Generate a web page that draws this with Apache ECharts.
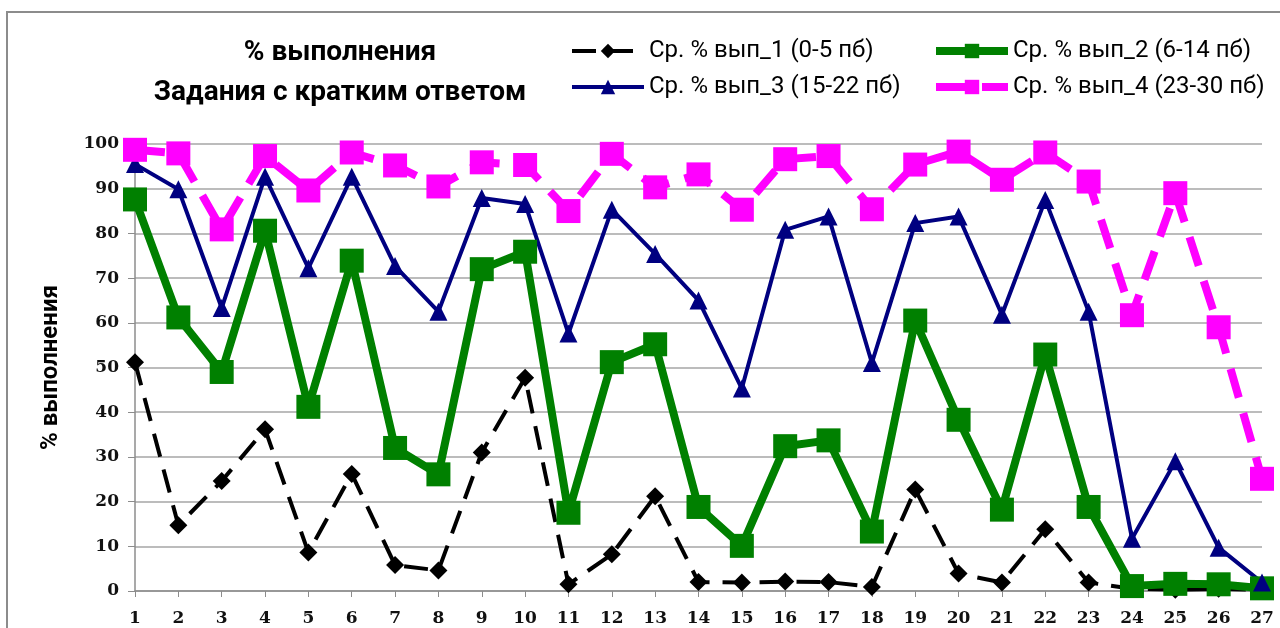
<!DOCTYPE html>
<html>
<head>
<meta charset="utf-8">
<script src="https://cdn.jsdelivr.net/npm/echarts@6/dist/echarts.min.js"></script>
<style>html,body{margin:0;padding:0;background:#fff;}#chart{width:1280px;height:628px;}</style>
</head>
<body>
<div id="chart"></div>
<script>
const categories = ['1','2','3','4','5','6','7','8','9','10','11','12','13','14','15','16','17','18','19','20','21','22','23','24','25','26','27'];
const seriesNames = ['Ср. % вып_1 (0-5 пб)', 'Ср. % вып_2 (6-14 пб)', 'Ср. % вып_3 (15-22 пб)', 'Ср. % вып_4 (23-30 пб)'];
const group1 = [51.2, 14.7, 24.6, 36.2, 8.6, 26.2, 5.8, 4.6, 31.0, 47.7, 1.5, 8.2, 21.2, 2.0, 1.9, 2.1, 2.0, 0.9, 22.7, 3.9, 1.9, 13.8, 1.9, 0.5, 0.3, 0.5, 0.2];
const group2 = [87.6, 61.2, 49.0, 80.6, 41.2, 73.9, 32.0, 26.1, 72.0, 75.9, 17.5, 51.2, 55.2, 18.8, 10.1, 32.4, 33.7, 13.3, 60.5, 38.3, 18.2, 52.9, 18.8, 1.1, 1.6, 1.5, 0.6];
const group3 = [95.5, 89.9, 63.3, 92.7, 72.2, 92.7, 72.7, 62.5, 87.9, 86.6, 57.6, 85.3, 75.4, 65.0, 45.3, 80.8, 83.8, 51.0, 82.3, 83.8, 61.8, 87.5, 62.5, 11.7, 29.0, 9.7, 1.9];
const group4 = [98.7, 97.9, 80.9, 97.3, 89.6, 98.1, 95.2, 90.5, 95.9, 95.3, 85.0, 97.8, 90.3, 93.2, 85.3, 96.6, 97.3, 85.4, 95.4, 98.3, 92.0, 98.1, 91.6, 61.7, 89.0, 59.0, 25.1];
const titleLines = ['% выполнения', 'Задания с кратким ответом'];
const yAxisName = '% выполнения';

const chart = echarts.init(document.getElementById('chart'), null, {renderer: 'canvas'});
const legendText = {fontFamily: 'Roboto, sans-serif', fontSize: 24, color: '#000'};
function mkLegend(name, left, top) {
  return {data: [name], left: left, top: top, itemWidth: 72, itemHeight: 18, textStyle: legendText, selectedMode: false,
    lineStyle: {width: 'inherit', type: 'inherit'}};
}
const option = {
  backgroundColor: '#fff',
  animation: false,
  graphic: [{type: 'rect', shape: {x: 7, y: 12, width: 1300, height: 700}, style: {fill: 'none', stroke: '#8c8c8c', lineWidth: 2}, silent: true}],
  title: {text: titleLines.join('\n'), left: 335, top: 28, textAlign: 'center',
    textStyle: {fontFamily: 'Roboto, sans-serif', fontSize: 28, fontWeight: 'bold', color: '#000', lineHeight: 40}},
  legend: [mkLegend(seriesNames[0], 565, 34), mkLegend(seriesNames[1], 927, 34), mkLegend(seriesNames[2], 565, 70), mkLegend(seriesNames[3], 927, 70)],
  grid: {left: 135, right: 18, top: 144, bottom: 37, containLabel: false},
  xAxis: {type: 'category', data: categories, boundaryGap: false,
    axisLine: {lineStyle: {color: '#8c8c8c', width: 1.5}},
    axisTick: {alignWithLabel: true, length: 6, lineStyle: {color: '#8c8c8c'}},
    axisLabel: {fontFamily: '"DejaVu Serif", serif', fontSize: 17, fontWeight: 'bold', color: '#111', margin: 19}},
  yAxis: {type: 'value', min: 0, max: 100, interval: 10,
    name: yAxisName, nameLocation: 'middle', nameGap: 72, nameRotate: 90,
    nameTextStyle: {fontFamily: 'Roboto, sans-serif', fontSize: 24, fontWeight: 'bold', color: '#000'},
    axisLine: {show: true, lineStyle: {color: '#8c8c8c', width: 1.5}},
    axisTick: {show: true, length: 7, lineStyle: {color: '#8c8c8c'}},
    splitLine: {lineStyle: {color: '#a6a6a6', width: 1.5}},
    axisLabel: {fontFamily: '"DejaVu Serif", serif', fontSize: 17, fontWeight: 'bold', color: '#111', margin: 16}},
  series: [
    {name: seriesNames[0], type: 'line', data: group1, symbol: 'diamond', symbolSize: 18,
      itemStyle: {color: '#000'}, lineStyle: {color: '#000', width: 4, type: [24, 13]}},
    {name: seriesNames[1], type: 'line', data: group2, symbol: 'rect', symbolSize: 24,
      itemStyle: {color: '#008000'}, lineStyle: {color: '#008000', width: 8}},
    {name: seriesNames[2], type: 'line', data: group3, symbol: 'triangle', symbolSize: 18,
      itemStyle: {color: '#000080'}, lineStyle: {color: '#000080', width: 4}},
    {name: seriesNames[3], type: 'line', data: group4, symbol: 'rect', symbolSize: 24,
      itemStyle: {color: '#ff00ff'}, lineStyle: {color: '#ff00ff', width: 8, type: [30, 16]}}
  ]
};
chart.setOption(option);
</script>
</body>
</html>
